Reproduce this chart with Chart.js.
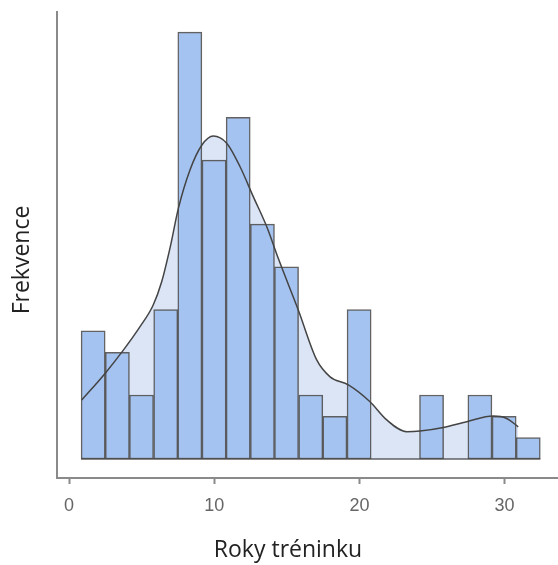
<!DOCTYPE html>
<html>
<head>
<meta charset="utf-8">
<script src="https://cdn.jsdelivr.net/npm/chart.js@4"></script>
<style>
  body { margin: 0; background: #fff; }
</style>
</head>
<body>
<canvas id="chart" width="558" height="565"></canvas>
<script>
'use strict';

// histogram bins (centre of each bin, years)
const binCenters = [1.66, 3.33, 4.99, 6.66, 8.32, 9.99, 11.65, 13.32, 14.98, 16.65, 18.31, 19.98, 21.64, 23.31, 24.97, 26.64, 28.30, 29.97, 31.63];
const binCounts = [6, 5, 3, 7, 20, 14, 16, 11, 9, 3, 2, 7, 0, 0, 3, 0, 3, 2, 1];

// density curve, scaled to counts
const densityX = [0.87, 2.48, 3.74, 4.89, 5.79, 6.38, 6.96, 7.53, 8.33, 9.14, 9.94, 10.86, 11.78, 12.69, 13.62, 14.41, 15.79, 17.06, 17.98, 19.24, 20.73, 21.88, 23.26, 24.17, 25.78, 27.39, 29.22, 30.14, 30.94];
const densityY = [2.76, 4.01, 5.10, 6.20, 7.20, 8.30, 9.90, 11.74, 13.54, 14.70, 15.13, 14.79, 13.69, 12.29, 10.88, 9.40, 6.98, 4.64, 3.85, 3.47, 2.68, 1.83, 1.28, 1.31, 1.48, 1.75, 2.01, 1.90, 1.51];

const xTicks = [0, 10, 20, 30];
const xTitle = 'Roky tréninku';
const yTitle = 'Frekvence';

const barPoints = binCenters.map((x, i) => ({ x: x, y: binCounts[i] }));
const curvePoints = densityX.map((x, i) => ({ x: x, y: densityY[i] }));
const halfBin = (binCenters[1] - binCenters[0]) / 2;
const basePoints = [
  { x: binCenters[0] - halfBin, y: 0 },
  { x: binCenters[binCenters.length - 1] + halfBin, y: 0 }
];

// axis titles drawn at fixed spots like the original
const axisTitles = {
  id: 'axisTitles',
  afterDraw(chart) {
    const ctx = chart.ctx;
    ctx.save();
    ctx.fillStyle = '#222';
    ctx.font = '23px "Open Sans"';
    ctx.textAlign = 'center';
    ctx.textBaseline = 'middle';
    ctx.fillText(xTitle, 288, 550);
    ctx.translate(22, 260);
    ctx.rotate(-Math.PI / 2);
    ctx.fillText(yTitle, 0, 0);
    ctx.restore();
  }
};

const ctx = document.getElementById('chart').getContext('2d');
const myChart = new Chart(ctx, {
  data: {
    datasets: [
      {
        type: 'line',
        data: curvePoints,
        backgroundColor: '#dbe5f6',
        borderWidth: 0,
        pointRadius: 0,
        fill: 'origin',
        cubicInterpolationMode: 'monotone',
        order: 4
      },
      {
        type: 'bar',
        data: barPoints,
        backgroundColor: '#a5c3f0',
        borderColor: 'rgba(70, 70, 70, 0.85)',
        borderWidth: 1.5,
        borderSkipped: false,
        barPercentage: 1,
        categoryPercentage: 1,
        order: 3
      },
      {
        type: 'line',
        data: basePoints,
        borderColor: 'rgba(70, 70, 70, 0.85)',
        borderWidth: 1.5,
        pointRadius: 0,
        fill: false,
        order: 2
      },
      {
        type: 'line',
        data: curvePoints,
        borderColor: '#444',
        borderWidth: 1.5,
        pointRadius: 0,
        fill: false,
        cubicInterpolationMode: 'monotone',
        order: 1
      }
    ]
  },
  options: {
    responsive: false,
    animation: false,
    devicePixelRatio: 1,
    layout: { padding: { top: 12, right: 0, left: 0, bottom: 0 } },
    plugins: {
      legend: { display: false },
      tooltip: { enabled: false }
    },
    scales: {
      x: {
        type: 'linear',
        offset: false,
        min: -0.83,
        max: 33.68,
        afterFit: function (scale) { scale.height = 87; },
        afterBuildTicks: function (scale) {
          scale.ticks = xTicks.map(v => ({ value: v }));
        },
        grid: {
          display: true,
          offset: false,
          drawOnChartArea: false,
          drawTicks: true,
          tickLength: 6,
          tickWidth: 2,
          tickColor: '#8a8a8a'
        },
        border: { display: true, color: '#8a8a8a', width: 2 },
        ticks: {
          includeBounds: false,
          padding: 11,
          color: '#666',
          font: { family: 'Liberation Sans', size: 18 }
        }
      },
      y: {
        type: 'linear',
        min: -0.89,
        max: 20.94,
        afterFit: function (scale) { scale.width = 57; },
        grid: { display: false },
        border: { display: true, color: '#8a8a8a', width: 2 },
        ticks: { display: false }
      }
    }
  },
  plugins: [axisTitles]
});
</script>
</body>
</html>
